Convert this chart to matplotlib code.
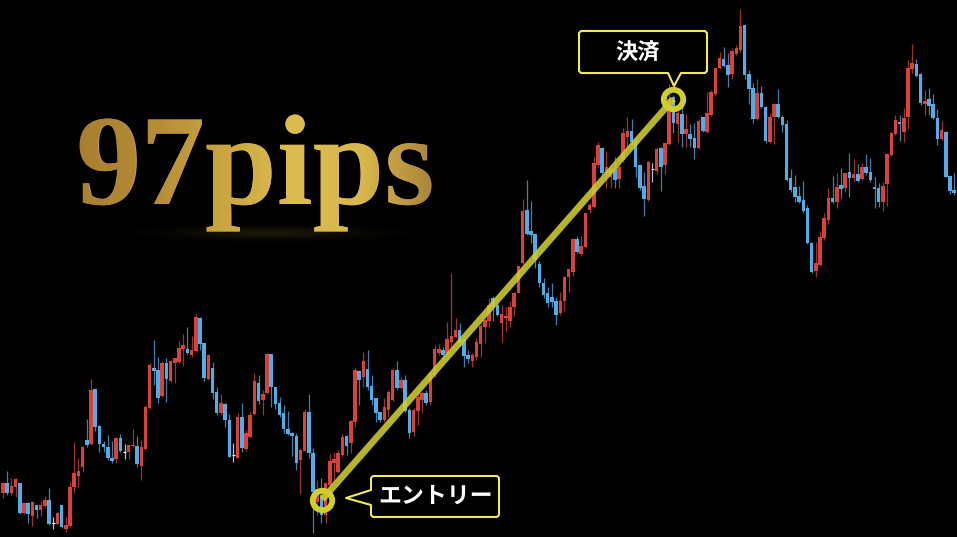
#!/usr/bin/env python3
# -*- coding: utf-8 -*-
import numpy as np
import matplotlib
matplotlib.use('Agg')
import matplotlib.pyplot as plt
from matplotlib.colors import LinearSegmentedColormap
from matplotlib.font_manager import FontProperties
from matplotlib.patches import Polygon, PathPatch
from matplotlib.textpath import TextPath
from matplotlib.transforms import Affine2D

# candles, price
open_ = [44.3,53.7,44.3,50.3,53.7,23.7,34.3,21,31.7,27,
    31,37,13.7,13,31.7,8.3,11,50.3,61,69.7,
    97,93,147.7,111.3,93,89.7,78.7,78.3,99,85.3,
    85.3,91,91,71,87.7,128.7,169,167,141,173.7,
    156.3,173.7,175.3,188,187.7,182,186.3,218.7,193.7,157.7,
    169.3,145.3,123.7,133,117,82,79.3,119.7,87.7,99.7,
    123,154.3,137,143.7,183,149.7,134.3,124.3,107.7,104.3,
    101,77,86.3,125,84.3,35,42,22,52,74.3,
    65.3,82,101,93.7,115.3,166.3,159.7,167.7,151,138.7,
    125.3,117,127,137,167,148.7,157,127,105.3,126.3,
    137,144.3,135.3,162,183.7,187,183.7,195.3,200.3,207,
    197.7,182,176.3,180.3,193,210.3,216.3,238.7,232,213.7,
    218.7,216.3,230.3,244.3,274.3,327,306.3,303,273,254.3,
    243.7,240.3,236.3,224.3,236.3,259.7,265.3,297.7,283,289.7,
    327,330.3,372,388.7,363.7,360,367.7,357.7,377,400.3,
    406.3,395.3,372,351,337,367.7,366.3,388.7,372,393,
    439.7,413,423,403,403,398.7,388.7,420.3,405.3,422,
    443,468.7,477.7,472,463,483,487,512,463,448.7,
    417.7,444.3,430.3,395.3,419.7,433,420.3,413,358.7,349.7,
    341,337,328.7,294.3,266.3,272,298.7,317,338.7,335.3,
    352,348.7,365.3,358.7,363,357.7,370.3,365.3,350.3,348.7,
    335.3,353,382,403,415.3,405.3,419.7,467.7,473,463,
    433,437.7,433,418.7,397.7,405.3,361,347]
high = [55.3,66.3,58.7,58.7,53.7,33.7,35.3,35.7,31.7,35.7,
    41,48.7,19.7,25,31.7,20.3,55.3,94.7,78.7,91,
    117.7,157.7,147.7,112,96.3,101.7,96.3,100.3,103,93,
    92.3,107.7,101,97,132.3,174.3,197,180.3,176.3,178.7,
    177,179.3,196.3,203,210.3,201,223,219.7,194.3,183,
    175.3,150.3,143,133.7,123,93.7,123.7,133.7,107,125,
    163.7,162,147,184.3,183,150.3,139.7,132,126.3,105,
    104.3,87.7,128.3,143,88.7,57,58.7,55.3,83,85.3,
    87,103,102,117,168.7,167,185.3,187,162,138.7,
    125.3,138.7,147,168.7,176.3,160.3,162,128.7,128.7,145.3,
    145.3,147,165.3,192,193,189.7,215.3,263.7,218.7,213.7,
    198.7,187,183.7,198.7,213.7,218.7,238.7,241,238.7,232,
    230.3,236.3,245.3,272,337.7,357,336.3,303.7,276.3,258.7,
    250.3,253.7,240.3,245.3,261,268.3,298.7,301,301,324.3,
    333.7,380.3,394.7,389.7,386.3,370.3,380.3,380.3,408.7,419.7,
    417.7,398.7,372,365.3,376.3,373.7,389.7,389.7,394.3,453,
    442,433.7,431,423,413,413.7,417.7,420.3,445.3,447,
    469.3,485.3,490.3,483.7,488.7,492,527.7,512,467,453.7,
    457.7,451,431,423.7,434.3,447.7,422,417,367.7,362,
    351,356.3,332,295.3,295.3,306.3,323.7,348.7,361,363.7,
    368.7,364.3,383.7,377.7,373,374.3,383,378.7,360.3,353.7,
    355.3,383.7,405.3,422,422,428.7,477,493,477.7,463.7,
    447,448.7,443,427.7,416.3,406.3,362,363.7]
low = [39.3,41.7,41.7,40.3,23,23,14.3,11,18.7,21,
    30.3,12,7.7,13,8.7,5,10.3,44.3,50.3,65.3,
    89.7,92,106.3,85.3,85.3,77,74.3,73.7,85.3,78,
    78,90.3,69.7,57,87,128,152,134.3,140.3,135.3,
    155.3,154.3,174.3,171.3,183,179.7,185.3,187,156.3,157,
    138.3,122,122,110.3,79.7,75,78.7,85.3,86.3,98.7,
    122.3,133,122,143,130.3,127.7,120.3,104.3,102.3,81,
    67,43,85.7,78.7,4.3,22,13.7,14.3,50.3,55.3,
    63.7,80.3,82,84.3,110.3,132,150.3,147,132,115.3,
    115.3,115.3,120.3,136.3,147,147.7,125.3,98.7,101,112,
    125.3,132,132,160.3,182,177,182,190.3,198.7,192,
    170.3,174.3,170.3,177,180.3,193.7,210.3,216.3,221,195.3,
    206.3,209.7,221,243.7,273,302,293.7,268.7,249.7,238.7,
    229.7,230.3,212,222,226.3,245.3,261,284.3,281,288.7,
    323.7,328.7,370.3,362,348.7,348.7,348.7,348.7,375.3,391,
    392,360.3,347,321,336.3,355.3,363,346.3,363,392,
    404.3,395.3,389.7,390.3,389.7,378.3,387.7,405.3,404.3,421,
    441,467.7,470.3,450.3,457.7,482,485.3,457.7,433,413.7,
    417,428.7,394.3,394.3,393,418.7,405.3,356.3,345.3,335.3,
    333.7,323.7,293,264.3,260.3,271,297,313,334.3,328.7,
    338.7,345.3,340.3,355.3,355.3,357,362,355.3,328.7,330.3,
    326.3,331,381,402,396.3,395.3,407.7,464.3,459.7,432,
    422,422,417.7,392,397,359.7,343,342]
close = [53.7,44.3,51,57.7,23.7,33.7,23,35,27,31.7,
    37,13,13.7,23.7,10.3,11.7,49.7,64.3,66.3,89.7,
    92,147,109.7,93,89.7,78.7,76.3,99,86.3,85.3,
    91.7,92,73,89.7,129.7,172,166.3,138.7,173.7,157.7,
    176,178.7,189,192,183.7,187,220.3,193,158.7,182,
    144.3,124.3,133.7,117,80.3,82,120.3,88.7,104.3,122.3,
    155.7,136.3,143,183,149.7,132.7,122,107.7,103,101,
    74.3,87,125.3,83.7,45.3,48,22,53.7,76.3,78.3,
    83.7,100.3,91,116.3,167,157,176.3,150.3,137,124.3,
    117,129.7,145.3,167,148.7,157,126.3,104.3,127,140.3,
    143.7,134.3,163.7,187.7,187.7,181.7,197.7,201,207,193.7,
    181,177.7,182,195.3,211,217,232,230.3,222,223,
    221,230.3,244.3,271,326.3,303,302,277,253.7,242,
    233.7,235.3,222,236.3,260.3,267.7,297.7,285.3,291,323.7,
    332,374.3,392,363.7,370,368.7,357,370.3,403.7,406.3,
    395.3,369.7,348.7,337.7,375.3,367.7,387.7,370.3,393.7,437.7,
    413.7,424.3,403,407.7,397.7,389.3,416.3,406,423.7,445.3,
    468.7,478.7,471,462,486.3,488.7,511,462,447.7,417.7,
    444.3,429.7,396.3,419.7,433,419.7,412,357,347,339.7,
    335.3,326.3,293.7,265.3,273.7,300.3,318.7,338.7,335.3,349.7,
    347.7,364.3,358.7,363,356.3,370.3,363.7,357,347.7,335.3,
    351,383,404.3,417,412.7,418.7,468.7,474.3,461,434.3,
    436.3,431,418.7,397.7,407,360.3,346.3,343.7]

trade_idx = [76.2, 160]
trade_price = [37.5, 438]

title = '97pips'
entry_label = 'エントリー'
exit_label = '決済'

red = '#d9423a'
blue = '#52ade6'
yellow = '#cfce30'
box_yellow = '#f3e85c'

plt.rcParams['font.family'] = ['Noto Sans CJK JP', 'DejaVu Sans']
plt.rcParams['text.hinting'] = 'no_hinting'

o = np.array(open_)
c = np.array(close)
h = np.array(high)
l = np.array(low)
x = np.arange(len(o))
up = c > o
down = c < o
doji = c == o

fig = plt.figure(figsize=(9.57, 5.37), dpi=100, facecolor='black')
ax = fig.add_axes([0, 0, 1, 1])
ax.set_facecolor('black')
ax.set_xlim(-0.716, 227.68)
ax.set_ylim(0, 537)
ax.axis('off')

for mask, col in [(up, red), (down, blue), (doji, 'white')]:
    ax.vlines(x[mask], l[mask], h[mask], color=col, lw=0.9, alpha=0.75, zorder=2)
    ax.bar(x[mask], np.abs(c - o)[mask], bottom=np.minimum(o, c)[mask],
           width=0.84, color=col, linewidth=0, zorder=3)
ax.hlines(o[doji], x[doji] - 0.4, x[doji] + 0.4, color='white', lw=0.85, zorder=3)

ax.plot(trade_idx, trade_price, color=yellow, lw=4.8, alpha=0.88, zorder=4,
        solid_capstyle='butt')
ax.plot(trade_idx, trade_price, 'o', ms=14, mfc='none', mec=yellow, mew=4.2, zorder=5)

# overlay in pixels for the title and the callouts
ov = fig.add_axes([0, 0, 1, 1])
ov.patch.set_alpha(0)
ov.set_xlim(0, 957)
ov.set_ylim(537, 0)
ov.axis('off')

exit_box = [(581, 31), (705, 31), (707, 33), (707, 71), (705, 73), (681, 73), (674, 86),
            (668, 73), (581, 73), (579, 71), (579, 33)]
entry_box = [(373, 476), (497, 476), (499, 478), (499, 515), (497, 517), (373, 517), (371, 515),
             (371, 505), (346, 498), (371, 490), (371, 478)]
for pts in (exit_box, entry_box):
    ov.add_patch(Polygon(pts, closed=True, fc='black', ec=box_yellow, lw=1.5,
                         joinstyle='round', zorder=6))
ov.text(638, 53, exit_label, color='white', fontsize=16, fontweight='bold',
        ha='center', va='center', zorder=7)
ov.text(436, 496, entry_label, color='white', fontsize=16.5, fontweight='bold',
        ha='center', va='center', zorder=7)

# glow under the title
gx = np.linspace(55, 450, 200)
gy = np.linspace(220, 246, 26)
X, Y = np.meshgrid(gx, gy)
glow = np.zeros(X.shape + (4,))
glow[..., :3] = (0.85, 0.7, 0.3)
glow[..., 3] = 0.13 * np.exp(-((Y - 233) / 6) ** 2) * np.exp(-((X - 270) / 90) ** 2)
ov.imshow(glow, extent=(55, 450, 246, 220), aspect='auto', zorder=1)

# gold title: plain text with a gradient clipped to the same outline
tx, ty = 76, 204
size_px = 129
fp = FontProperties(family='Liberation Serif', weight='bold')
ov.text(tx, ty, title, color='#c8a23f', fontsize=size_px * 0.72, family='Liberation Serif',
        fontweight='bold', ha='left', va='baseline', zorder=2)
path = TextPath((0, 0), title, size=size_px, prop=fp)
tr = Affine2D().scale(1, -1).translate(tx, ty) + ov.transData
clip = PathPatch(path, transform=tr, fc='none', ec='none')
ov.add_patch(clip)
gold = LinearSegmentedColormap.from_list('gold', ['#a87f30', '#b48a36', '#c8a440', '#dcbc50',
                                                  '#d8b84c', '#a9833a'])
grad = np.linspace(0, 1, 256).reshape(1, -1)
img = ov.imshow(grad, cmap=gold, extent=(76, 434, 236, 105), aspect='auto', zorder=3)
img.set_clip_path(clip)

ov.set_xlim(0, 957)
ov.set_ylim(537, 0)

fig.savefig('out.png', dpi=100, facecolor='black')
